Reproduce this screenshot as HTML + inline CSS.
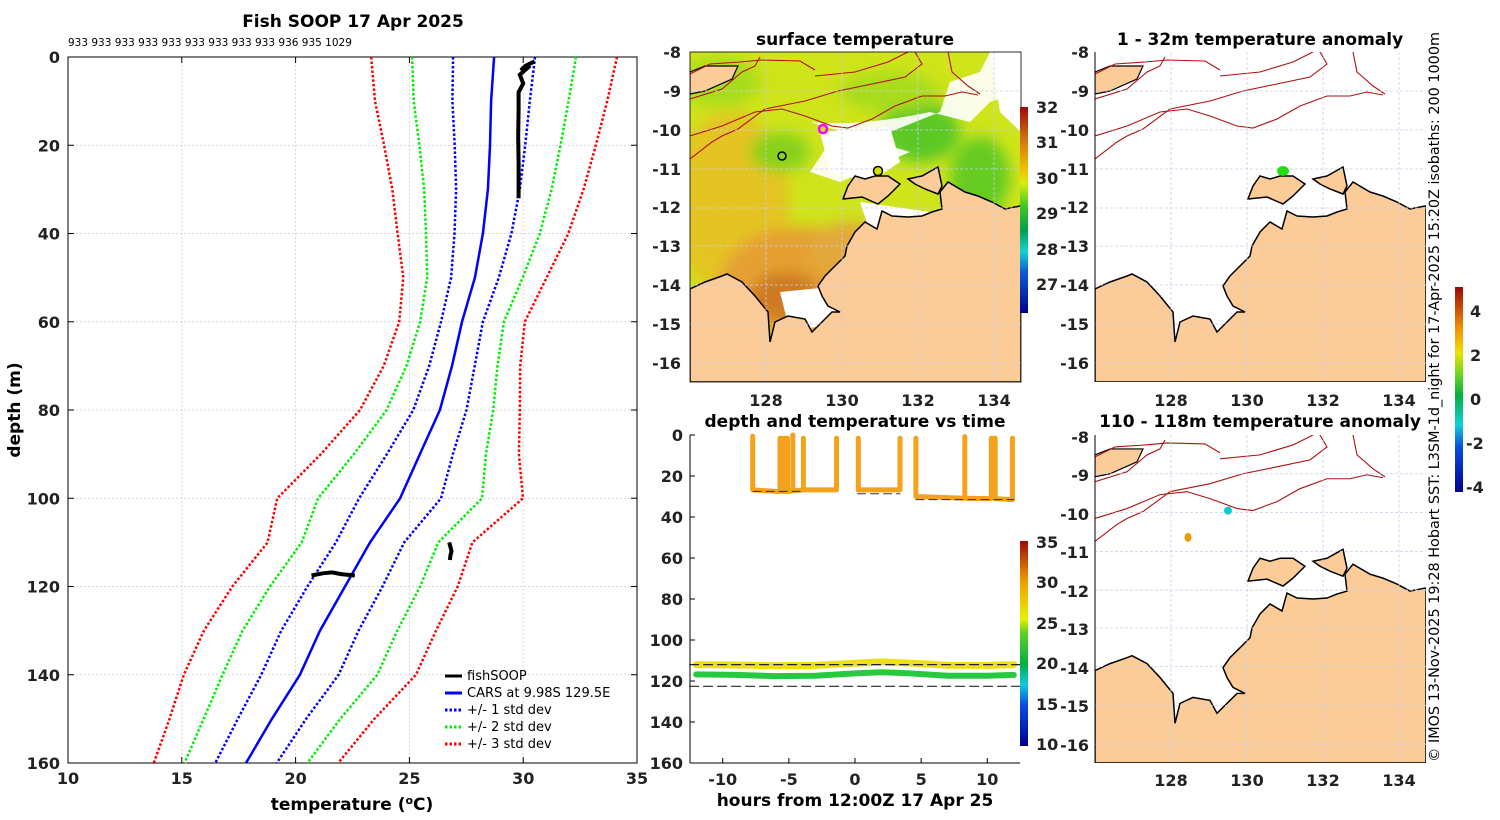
<!DOCTYPE html>
<html><head><meta charset="utf-8"><style>
html,body{margin:0;padding:0;background:#fff;}
svg{display:block;font-family:"DejaVu Sans","Liberation Sans",sans-serif;}
.tk{font-size:16px;font-weight:bold;fill:#222;}
.tt{font-size:17px;font-weight:bold;fill:#000;}
</style></head><body>
<svg id="fig" width="1500" height="820" viewBox="0 0 1500 820">
<defs>
<linearGradient id="cbSST" x1="0" y1="1" x2="0" y2="0">
<stop offset="0" stop-color="#00008f"/><stop offset="0.2" stop-color="#0a5ed8"/><stop offset="0.3" stop-color="#12d3d6"/><stop offset="0.4" stop-color="#00a050"/><stop offset="0.52" stop-color="#40c820"/><stop offset="0.63" stop-color="#d8ec10"/><stop offset="0.7" stop-color="#f0c000"/><stop offset="0.85" stop-color="#d07010"/><stop offset="1" stop-color="#a00808"/></linearGradient>
<linearGradient id="cbT" x1="0" y1="1" x2="0" y2="0">
<stop offset="0" stop-color="#00008f"/><stop offset="0.2" stop-color="#0a4ee0"/><stop offset="0.3" stop-color="#10c8e0"/><stop offset="0.4" stop-color="#00b040"/><stop offset="0.55" stop-color="#60d020"/><stop offset="0.62" stop-color="#e8f000"/><stop offset="0.8" stop-color="#f0a000"/><stop offset="1" stop-color="#a00808"/></linearGradient>
<linearGradient id="cbA" x1="0" y1="1" x2="0" y2="0">
<stop offset="0" stop-color="#00008f"/><stop offset="0.22" stop-color="#0a4ee0"/><stop offset="0.33" stop-color="#10d0d8"/><stop offset="0.47" stop-color="#00b040"/><stop offset="0.58" stop-color="#70d820"/><stop offset="0.68" stop-color="#f0e000"/><stop offset="0.8" stop-color="#f09000"/><stop offset="1" stop-color="#a00808"/></linearGradient>
<filter id="blur" x="-20%" y="-20%" width="140%" height="140%"><feGaussianBlur stdDeviation="7"/></filter>
<clipPath id="mapclip"><rect x="0" y="0" width="331" height="330"/></clipPath>
<g id="land">
<path d="M0,254 L0,237 15,230 32,224 37,222 52,230 65,244 78,260 80,290 85,270 98,264 115,267 122,280 132,270 142,260 150,260 138,254 132,244 128,234 135,224 145,214 155,204 157,194 165,180 175,170 187,177 192,159 202,164 218,165 232,164 242,160 252,157 250,140 258,130 275,140 288,144 302,150 315,157 330,154 331,154 331,330 0,330 Z" fill="#fbcb98" stroke="#000" stroke-width="1.5"/>
<path d="M153,147 158,134 165,124 175,127 185,124 198,124 210,132 198,144 188,152 172,145 Z" fill="#fbcb98" stroke="#000" stroke-width="1.5"/>
<path d="M218,127 232,124 248,115 252,134 248,142 235,137 225,132 Z" fill="#fbcb98" stroke="#000" stroke-width="1.5"/>
<path d="M0,20 15,14 48,14 42,27 15,39 0,42 Z" fill="#fbcb98" stroke="#000" stroke-width="1.2"/>
</g>
<g id="iso" fill="none" stroke="#b01010" stroke-width="1.1">
<polyline points="0,84 32,74 65,60 92,57 115,64 142,74 158,76 182,67 205,54 232,44 255,44 272,40 288,43"/>
<polyline points="0,107 22,90 32,84 48,77 75,57 115,49 148,39 182,32 215,25 232,12 225,0"/>
<polyline points="0,47 32,37 52,20 65,14 70,5"/>
<polyline points="0,22 20,12 50,10 72,8 110,9 125,18"/>
<polyline points="125,24 165,20 198,10 218,0"/>
<polyline points="258,0 262,20 278,34 290,42"/>
</g>
<g id="grid" stroke="#c8d0e8" stroke-width="0.8" stroke-dasharray="3,2">
<line x1="76" y1="0" x2="76" y2="330"/><line x1="152" y1="0" x2="152" y2="330"/><line x1="228" y1="0" x2="228" y2="330"/><line x1="304" y1="0" x2="304" y2="330"/>
<line x1="0" y1="39" x2="331" y2="39"/><line x1="0" y1="78" x2="331" y2="78"/><line x1="0" y1="117" x2="331" y2="117"/><line x1="0" y1="156" x2="331" y2="156"/><line x1="0" y1="194" x2="331" y2="194"/><line x1="0" y1="233" x2="331" y2="233"/><line x1="0" y1="272" x2="331" y2="272"/><line x1="0" y1="311" x2="331" y2="311"/>
</g>
</defs>

<!-- ============ LEFT PROFILE ============ -->
<text x="353" y="27" text-anchor="middle" class="tt">Fish SOOP 17 Apr 2025</text>
<text x="68" y="46" font-size="10.5" fill="#000">933 933 933 933 933 933 933 933 933 936 935 1029</text>
<g id="profile"></g>
<text x="352" y="810" text-anchor="middle" class="tt">temperature (<tspan font-size="11" dy="-6">o</tspan><tspan dy="6">C)</tspan></text>
<text transform="translate(20,410) rotate(-90)" text-anchor="middle" class="tt">depth (m)</text>
<g font-size="13" fill="#000">
<line x1="445" y1="676" x2="462" y2="676" stroke="#000" stroke-width="3"/><text x="467" y="680">fishSOOP</text>
<line x1="445" y1="693" x2="462" y2="693" stroke="#0000ff" stroke-width="3"/><text x="467" y="697">CARS at 9.98S 129.5E</text>
<line x1="445" y1="710" x2="462" y2="710" stroke="#0000ff" stroke-width="3" stroke-dasharray="2.5,2"/><text x="467" y="714">+/- 1 std dev</text>
<line x1="445" y1="727" x2="462" y2="727" stroke="#00ee00" stroke-width="3" stroke-dasharray="2.5,2"/><text x="467" y="731">+/- 2 std dev</text>
<line x1="445" y1="744" x2="462" y2="744" stroke="#ff0000" stroke-width="3" stroke-dasharray="2.5,2"/><text x="467" y="748">+/- 3 std dev</text>
</g>

<!-- ============ MIDDLE TOP MAP (SST) ============ -->
<text x="855" y="45" text-anchor="middle" class="tt">surface temperature</text>
<g transform="translate(690,52)">
<g clip-path="url(#mapclip)">
<rect x="0" y="0" width="331" height="330" fill="#cfe41a"/>
<g filter="url(#blur)">
<ellipse cx="40" cy="150" rx="60" ry="90" fill="#e4c424"/>
<ellipse cx="110" cy="230" rx="80" ry="55" fill="#e5a030"/>
<ellipse cx="95" cy="245" rx="35" ry="25" fill="#cf7a20"/>
<ellipse cx="160" cy="200" rx="40" ry="30" fill="#e3a83a"/>
<ellipse cx="230" cy="80" rx="40" ry="30" fill="#5cc826"/>
<ellipse cx="290" cy="125" rx="30" ry="40" fill="#66cc22"/>
<ellipse cx="90" cy="100" rx="30" ry="20" fill="#88d21c"/>
<ellipse cx="200" cy="40" rx="50" ry="20" fill="#a8dc1c"/>
<ellipse cx="30" cy="30" rx="40" ry="25" fill="#a8dc1c"/>
</g>
<path d="M120,70 Q170,75 240,60 L280,70 300,50 331,40 331,0 300,0 290,20 260,30 250,60 200,80 140,90 120,120 150,130 220,100 Z" fill="#fff" opacity="0.9"/>
<path d="M130,80 L200,75 L210,110 L180,130 L140,120 Z" fill="#fff"/>
<path d="M300,0 L331,0 331,80 310,60 Z" fill="#fff"/>
<path d="M90,240 L140,235 L150,270 L100,280 Z" fill="#fff"/>
<path d="M170,150 L240,160 L260,190 L210,200 L180,180 Z" fill="#fff"/>
<use href="#land"/>
<use href="#iso"/>
<use href="#grid"/>
<circle cx="133" cy="77" r="4" fill="none" stroke="#ff00ff" stroke-width="2.5"/>
<circle cx="92" cy="104" r="4" fill="none" stroke="#000" stroke-width="1.5"/>
<circle cx="188" cy="119" r="4.5" fill="#d8e000" stroke="#000" stroke-width="1.5"/>
</g>
<rect x="0" y="0" width="331" height="330" fill="none" stroke="#000" stroke-width="0.8"/>
</g>
<g class="tk" text-anchor="end">
<text x="681" y="58">-8</text><text x="681" y="97">-9</text><text x="681" y="136">-10</text><text x="681" y="175">-11</text><text x="681" y="213">-12</text><text x="681" y="252">-13</text><text x="681" y="291">-14</text><text x="681" y="330">-15</text><text x="681" y="369">-16</text>
</g>
<g class="tk" text-anchor="middle">
<text x="766" y="406">128</text><text x="842" y="406">130</text><text x="918" y="406">132</text><text x="994" y="406">134</text>
</g>
<g>
<rect x="1020" y="107" width="8" height="206" fill="url(#cbSST)"/>
<g class="tk" font-size="13"><text x="1036" y="113">32</text><text x="1036" y="148">31</text><text x="1036" y="184">30</text><text x="1036" y="219">29</text><text x="1036" y="255">28</text><text x="1036" y="290">27</text></g>
</g>

<!-- ============ MIDDLE BOTTOM TIME SERIES ============ -->
<text x="855" y="427" text-anchor="middle" class="tt">depth and temperature vs time</text>
<g id="ts"></g>
<text x="855" y="806" text-anchor="middle" class="tt">hours from 12:00Z 17 Apr 25</text>
<g>
<rect x="1020" y="541" width="8" height="205" fill="url(#cbT)"/>
<g class="tk" font-size="13"><text x="1036" y="548">35</text><text x="1036" y="588">30</text><text x="1036" y="629">25</text><text x="1036" y="669">20</text><text x="1036" y="710">15</text><text x="1036" y="750">10</text></g>
</g>

<!-- ============ RIGHT MAPS ============ -->
<text x="1260" y="45" text-anchor="middle" class="tt">1 - 32m temperature anomaly</text>
<g transform="translate(1095,52)">
<g clip-path="url(#mapclip)"><use href="#land"/><use href="#iso"/><use href="#grid"/>
<ellipse cx="188" cy="119" rx="6" ry="5" fill="#22dd11"/></g>
<line x1="0" y1="0" x2="0" y2="330" stroke="#000"/>
</g>
<g class="tk" text-anchor="end">
<text x="1089" y="58">-8</text><text x="1089" y="97">-9</text><text x="1089" y="136">-10</text><text x="1089" y="175">-11</text><text x="1089" y="213">-12</text><text x="1089" y="252">-13</text><text x="1089" y="291">-14</text><text x="1089" y="330">-15</text><text x="1089" y="369">-16</text>
</g>
<g class="tk" text-anchor="middle">
<text x="1171" y="406">128</text><text x="1247" y="406">130</text><text x="1323" y="406">132</text><text x="1399" y="406">134</text>
</g>

<text x="1260" y="427" text-anchor="middle" class="tt">110 - 118m temperature anomaly</text>
<g transform="translate(1095,435) scale(1,0.994)">
<g clip-path="url(#mapclip)"><use href="#land"/><use href="#iso"/><use href="#grid"/>
<circle cx="133" cy="76" r="4" fill="#10c8d0"/>
<ellipse cx="93" cy="103" rx="3.5" ry="4.5" fill="#f09a00"/></g>
<line x1="0" y1="0" x2="0" y2="330" stroke="#000"/>
</g>
<g class="tk" text-anchor="end">
<text x="1089" y="443">-8</text><text x="1089" y="481">-9</text><text x="1089" y="520">-10</text><text x="1089" y="558">-11</text><text x="1089" y="597">-12</text><text x="1089" y="635">-13</text><text x="1089" y="674">-14</text><text x="1089" y="712">-15</text><text x="1089" y="751">-16</text>
</g>
<g class="tk" text-anchor="middle">
<text x="1171" y="786">128</text><text x="1247" y="786">130</text><text x="1323" y="786">132</text><text x="1399" y="786">134</text>
</g>
<g>
<rect x="1455" y="287" width="8" height="205" fill="url(#cbA)"/>
<g class="tk" font-size="13"><text x="1470" y="317">4</text><text x="1470" y="361">2</text><text x="1470" y="405">0</text><text x="1466" y="449">-2</text><text x="1466" y="493">-4</text></g>
</g>
<text transform="translate(1439,762) rotate(-90)" font-size="14.5" textLength="730" lengthAdjust="spacingAndGlyphs" fill="#000">© IMOS 13-Nov-2025 19:28 Hobart SST: L3SM-1d_night for 17-Apr-2025 15:20Z isobaths: 200  1000m</text>

<script>
// ---------- profile data ----------
const depths = [0,10,20,30,40,50,60,70,80,90,100,110,120,130,140,150,160];
const carsMean = [28.72,28.59,28.54,28.45,28.23,27.88,27.31,26.87,26.34,25.46,24.59,23.27,22.17,21.07,20.19,18.96,17.82];
const carsStd = [1.8,1.7,1.55,1.4,1.25,1.05,0.92,1.0,1.17,1.45,1.8,1.5,1.65,1.7,1.7,1.5,1.35];
const soopShallowT = [30.5,30.1,29.9,30.3,29.85,30.0,29.8,29.8,29.78,29.8,29.8];
const soopShallowD = [1,2,3,2,4,6,8,12,18,24,32];
const soopDeepT = [20.7,21.2,21.6,22.0,22.6];
const soopDeepD = [117.5,117,116.8,117.2,117.5];
const soopMidT = [26.75,26.8,26.85,26.8,26.78];
const soopMidD = [110,111,112,113,114];
const xTicks = [10,15,20,25,30,35];
const yTicks = [0,20,40,60,80,100,120,140,160];

const NS='http://www.w3.org/2000/svg';
function mk(tag, attrs, parent){const e=document.createElementNS(NS,tag);for(const k in attrs)e.setAttribute(k,attrs[k]);parent.appendChild(e);return e;}
const px = t => 68 + (t-10)*(637-68)/25;
const py = d => 57 + d*(763-57)/160;
const prof = document.getElementById('profile');
xTicks.forEach(t=>{ if(t>10&&t<35){const g=mk('line',{x1:px(t),y1:57,x2:px(t),y2:763,stroke:(t%10===0)?'#ecc8b8':'#c8d0ec','stroke-width':0.8,'stroke-dasharray':'2,2'},prof);

}});
yTicks.forEach(d=>{ if(d>0&&d<160){const g=mk('line',{x1:68,y1:py(d),x2:637,y2:py(d),stroke:'#d0c8d8','stroke-width':0.8,'stroke-dasharray':'2,2'},prof);

}});
const box=mk('rect',{x:68,y:57,width:569,height:706,fill:'none',stroke:'#000','stroke-width':1},prof);


xTicks.forEach(t=>{
  mk('line',{x1:px(t),y1:763,x2:px(t),y2:757,stroke:'#000'},prof);
  mk('line',{x1:px(t),y1:57,x2:px(t),y2:63,stroke:'#000'},prof);
  const tx=mk('text',{x:px(t),y:784,'text-anchor':'middle',class:'tk'},prof);tx.textContent=t;
  
  
});
yTicks.forEach(d=>{
  mk('line',{x1:68,y1:py(d),x2:74,y2:py(d),stroke:'#000'},prof);
  mk('line',{x1:637,y1:py(d),x2:631,y2:py(d),stroke:'#000'},prof);
  const tx=mk('text',{x:60,y:py(d)+6,'text-anchor':'end',class:'tk'},prof);tx.textContent=d;
  
  
});
function line(ts, ds, color, dash, w, name){
  const pts = ts.map((t,i)=>px(t).toFixed(1)+','+py(ds[i]).toFixed(1)).join(' ');
  const p=mk('polyline',{points:pts,fill:'none',stroke:color,'stroke-width':w},prof);
  if(dash) p.setAttribute('stroke-dasharray',dash);
  
  
}
[[3,'#ff0000','std3'],[2,'#00ee00','std2'],[1,'#0000ff','std1']].forEach(([k,c,n])=>{
  line(carsMean.map((m,i)=>m-k*carsStd[i]),depths,c,'2.5,2',2.5,n+'-lower');
  line(carsMean.map((m,i)=>m+k*carsStd[i]),depths,c,'2.5,2',2.5,n+'-upper');
});
line(carsMean,depths,'#0000ff',null,2.5,'cars-mean-line');
line(soopShallowT,soopShallowD,'#000',null,4,'fishsoop-shallow');
line(soopDeepT,soopDeepD,'#000',null,4,'fishsoop-deep');
line(soopMidT,soopMidD,'#000',null,4,'fishsoop-mid');

// ---------- time series data ----------
const trackHours = [-7.73,-7.73,-5.67,-5.67,-5.6,-5.5,-5.4,-5.3,-5.2,-5.1,-5.1,-4.7,-4.7,-4.7,-3.9,-3.9,-3.9,-1.4,-1.4];
const trackDepths = [0.6,26.8,27.6,1.6,27.6,1.6,27.6,1.6,27.6,1.6,27.6,27.2,0,27.2,26.8,1.6,26.8,26.8,1.6];
const track2Hours = [0.25,0.25,3.4,3.4];
const track2Depths = [1.6,26.8,26.8,1.6];
const track3Hours = [4.6,4.6,8.3,8.3,8.3,10.3,10.3,10.3,10.5,10.6,10.6,11.9,11.9];
const track3Depths = [1.6,30,30.9,0.8,30.9,31,1.6,31,1.6,1.6,31,31.5,1.6];
const bandHours = [-12,-9,-6,-3,0,2,4,7,10,12];
const yellowDepths = [112,112.2,112.6,112.4,111.3,110.7,111.2,112.3,112.4,112];
const greenDepths = [116.8,117,117.6,117.4,116.3,115.7,116.2,117.4,117.4,117];
const dashDepths = [112,122.6];
const hTicks = [-10,-5,0,5,10];
const dTicks = [0,20,40,60,80,100,120,140,160];
const hx = h => 855 + h*13.23;
const dy = d => 435 + d*(763-435)/160;
const ts = document.getElementById('ts');
mk('line',{x1:690,y1:435,x2:690,y2:763,stroke:'#000'},ts);
mk('line',{x1:690,y1:763,x2:1020,y2:763,stroke:'#000'},ts);
hTicks.forEach(h=>{mk('line',{x1:hx(h),y1:763,x2:hx(h),y2:758,stroke:'#000'},ts);
  const tx=mk('text',{x:hx(h),y:785,'text-anchor':'middle',class:'tk'},ts);tx.textContent=h;
  
  });
dTicks.forEach(d=>{mk('line',{x1:690,y1:dy(d),x2:695,y2:dy(d),stroke:'#000'},ts);
  const tx=mk('text',{x:683,y:dy(d)+6,'text-anchor':'end',class:'tk'},ts);tx.textContent=d;
  
  });
function tline(hs, ds, color, w, name, dash){
  const p=mk('polyline',{points:hs.map((h,i)=>hx(h).toFixed(1)+','+dy(ds[i]).toFixed(1)).join(' '),fill:'none',stroke:color,'stroke-width':w,'stroke-linejoin':'round','stroke-linecap':'round'},ts);
  if(dash)p.setAttribute('stroke-dasharray',dash);
  
  
}
tline(bandHours,yellowDepths,'#f0e010',7,'band-yellow');
tline(bandHours,greenDepths,'#28c840',6,'band-green');
dashDepths.forEach(d=>tline([-12.5,12.5],[d,d],'#223',1.2,'dashed-depth-line','9,5'));
tline(trackHours,trackDepths,'#f4a21c',5,'track-segment-1');
tline(track2Hours,track2Depths,'#f4a21c',5,'track-segment-2');
tline(track3Hours,track3Depths,'#f4a21c',5,'track-segment-3');
tline([-7.7,-3.9],[27.5,27.5],'#333',1,'mean-depth-1','8,5');
tline([0.2,3.4],[28.7,28.7],'#333',1,'mean-depth-2','8,5');
tline([4.6,12],[31.5,31.5],'#333',1,'mean-depth-3','8,5');
</script>
</svg>
</body></html>
